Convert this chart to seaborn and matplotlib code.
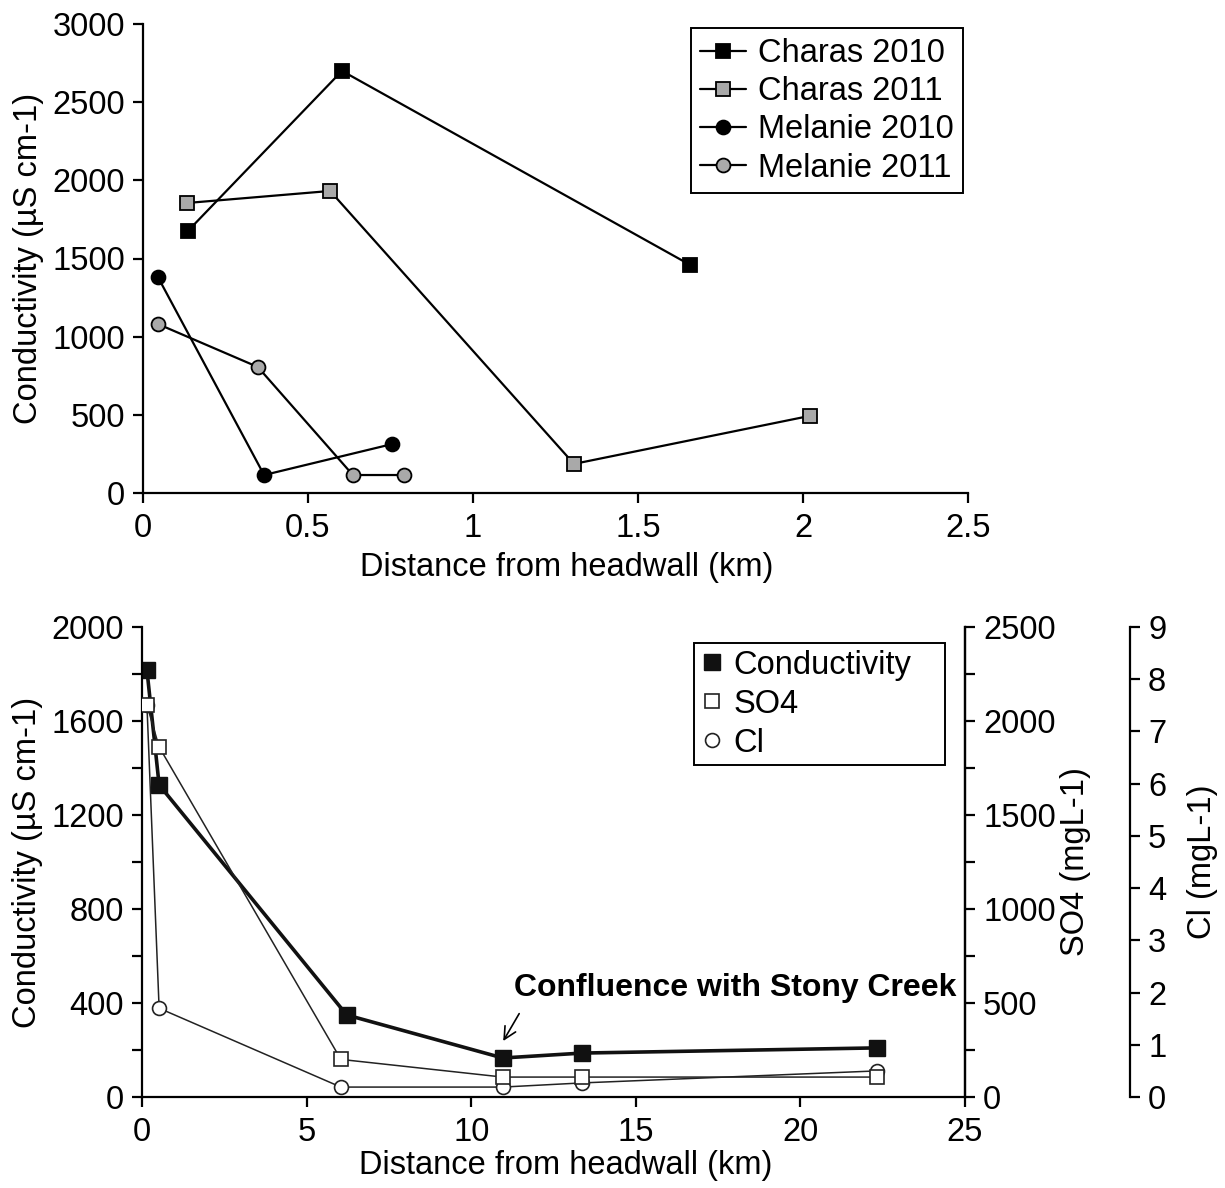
import numpy as np
import matplotlib
matplotlib.use("Agg")
import matplotlib.pyplot as plt
from matplotlib.lines import Line2D
from matplotlib.ticker import MultipleLocator
import pandas as pd
import seaborn as sns

# %% data
# top panel: conductivity vs distance from headwall
charas_2010_x = [0.136, 0.603, 1.658]
charas_2010_y = [1676, 2700, 1459]
charas_2011_x = [0.133, 0.567, 1.306, 2.02]
charas_2011_y = [1855, 1932, 186, 493]
melanie_2010_x = [0.045, 0.367, 0.755]
melanie_2010_y = [1382, 115, 313]
melanie_2011_x = [0.045, 0.348, 0.636, 0.79]
melanie_2011_y = [1081, 806, 115, 115]

# bottom panel: downstream profile
cond_x = [0.15, 0.52, 6.22, 10.96, 13.38, 22.34]
cond_y = [1817, 1328, 349, 166, 187, 209]
so4_x = [0.15, 0.52, 6.04, 10.96, 13.38, 22.34]
so4_y = [2085, 1862, 200, 106, 106, 106]
cl_x = [0.15, 0.52, 6.04, 10.96, 13.38, 22.34]
cl_y = [7.5, 1.70, 0.19, 0.19, 0.27, 0.50]

# %% style
sns.set_style("ticks")
plt.rcParams['font.family'] = ['Liberation Sans', 'DejaVu Sans']
FS = 23.5
plt.rcParams.update({
    'font.size': FS,
    'axes.linewidth': 1.6,
    'xtick.major.width': 1.6,
    'ytick.major.width': 1.6,
    'ytick.minor.width': 1.6,
    'xtick.major.size': 7,
    'ytick.major.size': 7,
    'ytick.minor.size': 7,
    'xtick.major.pad': 7.5,
    'ytick.major.pad': 6,
    'xtick.labelsize': FS,
    'ytick.labelsize': FS,
    'axes.labelsize': FS,
    'text.color': 'black',
    'xtick.color': 'black',
    'ytick.color': 'black',
    'axes.edgecolor': 'black',
    'axes.labelcolor': 'black',
})

W, H = 1225, 1188
fig = plt.figure(figsize=(W / 100, H / 100), dpi=100)

def px_axes(l, t, r, b):
    return fig.add_axes([l / W, 1 - b / H, (r - l) / W, (b - t) / H])

GRAY = '#a9a9a9'

# %% top panel
ax1 = px_axes(143, 24, 968, 493)
top_series = [
    ('Charas 2010', charas_2010_x, charas_2010_y, 's', 'black'),
    ('Charas 2011', charas_2011_x, charas_2011_y, 's', GRAY),
    ('Melanie 2010', melanie_2010_x, melanie_2010_y, 'o', 'black'),
    ('Melanie 2011', melanie_2011_x, melanie_2011_y, 'o', GRAY),
]
for name, xs, ys, mk, face in top_series:
    df = pd.DataFrame({'x': xs, 'y': ys})
    sns.lineplot(data=df, x='x', y='y', ax=ax1, color='black', linewidth=1.6,
                 marker=mk, markersize=10, markerfacecolor=face,
                 markeredgecolor='black', markeredgewidth=1.3, label=name)

ax1.set_xlim(0, 2.5)
ax1.set_ylim(0, 3000)
ax1.set_xticks([0, 0.5, 1, 1.5, 2, 2.5])
ax1.set_xticklabels(['0', '0.5', '1', '1.5', '2', '2.5'])
ax1.set_yticks(np.arange(0, 3001, 500))
ax1.set_xlabel('Distance from headwall (km)', labelpad=4)
ax1.xaxis.set_label_coords(0.513, -0.125)
ax1.set_ylabel('Conductivity (\u00b5S cm-1)', labelpad=6)
sns.despine(ax=ax1)
leg1 = ax1.legend(loc='upper right', bbox_to_anchor=(0.994, 0.991), frameon=True,
                  fancybox=False, edgecolor='black', framealpha=1,
                  handlelength=1.4, handletextpad=0.35, labelspacing=0.22,
                  borderpad=0.3, borderaxespad=0, fontsize=FS)
leg1.get_frame().set_linewidth(1.4)

# %% bottom panel
ax2 = px_axes(142, 627, 965, 1097)
ax4 = ax2.twinx()
ax3 = ax2.twinx()
ax3.set_position(ax2.get_position())
ax4.set_position(ax2.get_position())

sns.lineplot(x=cond_x, y=cond_y, ax=ax2, color='#111111', linewidth=2.6,
             marker='s', markersize=11, markerfacecolor='#111111',
             markeredgecolor='#111111', markeredgewidth=1.0)
sns.lineplot(x=so4_x, y=so4_y, ax=ax3, color='#222222', linewidth=1.1,
             marker='s', markersize=10, markerfacecolor='white',
             markeredgecolor='#222222', markeredgewidth=1.2)
sns.lineplot(x=cl_x, y=cl_y, ax=ax4, color='#222222', linewidth=1.1,
             marker='o', markersize=10, markerfacecolor='white',
             markeredgecolor='#222222', markeredgewidth=1.2)

ax2.set_xlim(0, 25)
ax2.set_ylim(0, 2000)
ax2.set_xticks(np.arange(0, 26, 5))
ax2.set_yticks(np.arange(0, 2001, 400))
ax2.yaxis.set_minor_locator(MultipleLocator(200))
ax2.set_xlabel('Distance from headwall (km)')
ax2.xaxis.set_label_coords(0.515, -0.113)
ax2.set_ylabel('Conductivity (\u00b5S cm-1)', labelpad=6)

ax3.set_ylim(0, 2500)
ax3.set_yticks(np.arange(0, 2501, 500))
ax3.yaxis.set_minor_locator(MultipleLocator(250))
ax3.set_ylabel('SO4 (mgL-1)', labelpad=3)

ax4.set_ylim(0, 9)
ax4.set_yticks(np.arange(0, 10, 1))
ax4.spines['right'].set_position(('outward', 165 * 0.72))
ax4.set_ylabel('Cl (mgL-1)', labelpad=15)

for a in (ax2, ax3, ax4):
    a.spines['top'].set_visible(False)
ax3.spines['left'].set_visible(False)
ax4.spines['left'].set_visible(False)
ax4.spines['bottom'].set_visible(False)
ax3.spines['bottom'].set_visible(False)

ax2.annotate('', xy=(10.93, 228), xytext=(11.5, 365),
             arrowprops=dict(arrowstyle='->', lw=1.2, color='black',
                             mutation_scale=22))
ax2.text(11.3, 462, 'Confluence with Stony Creek', fontsize=23,
         fontweight='bold', ha='left', va='center', color='black')

handles = [
    Line2D([], [], ls='none', marker='s', markersize=11, markerfacecolor='#111111',
           markeredgecolor='#111111'),
    Line2D([], [], ls='none', marker='s', markersize=10, markerfacecolor='white',
           markeredgecolor='#222222', markeredgewidth=1.2),
    Line2D([], [], ls='none', marker='o', markersize=10, markerfacecolor='white',
           markeredgecolor='#222222', markeredgewidth=1.2),
]
leg2 = ax3.legend(handles, ['Conductivity', 'SO4', 'Cl'], loc='upper left',
                  bbox_to_anchor=(0.6707, 0.966, 0.305, 0), mode='expand',
                  frameon=True, fancybox=False,
                  edgecolor='black', framealpha=1, handlelength=0.7,
                  handletextpad=0.3, labelspacing=0.25, borderpad=0.2,
                  borderaxespad=0, fontsize=FS)
leg2.get_frame().set_linewidth(1.4)

fig.savefig('out.png', dpi=100)
